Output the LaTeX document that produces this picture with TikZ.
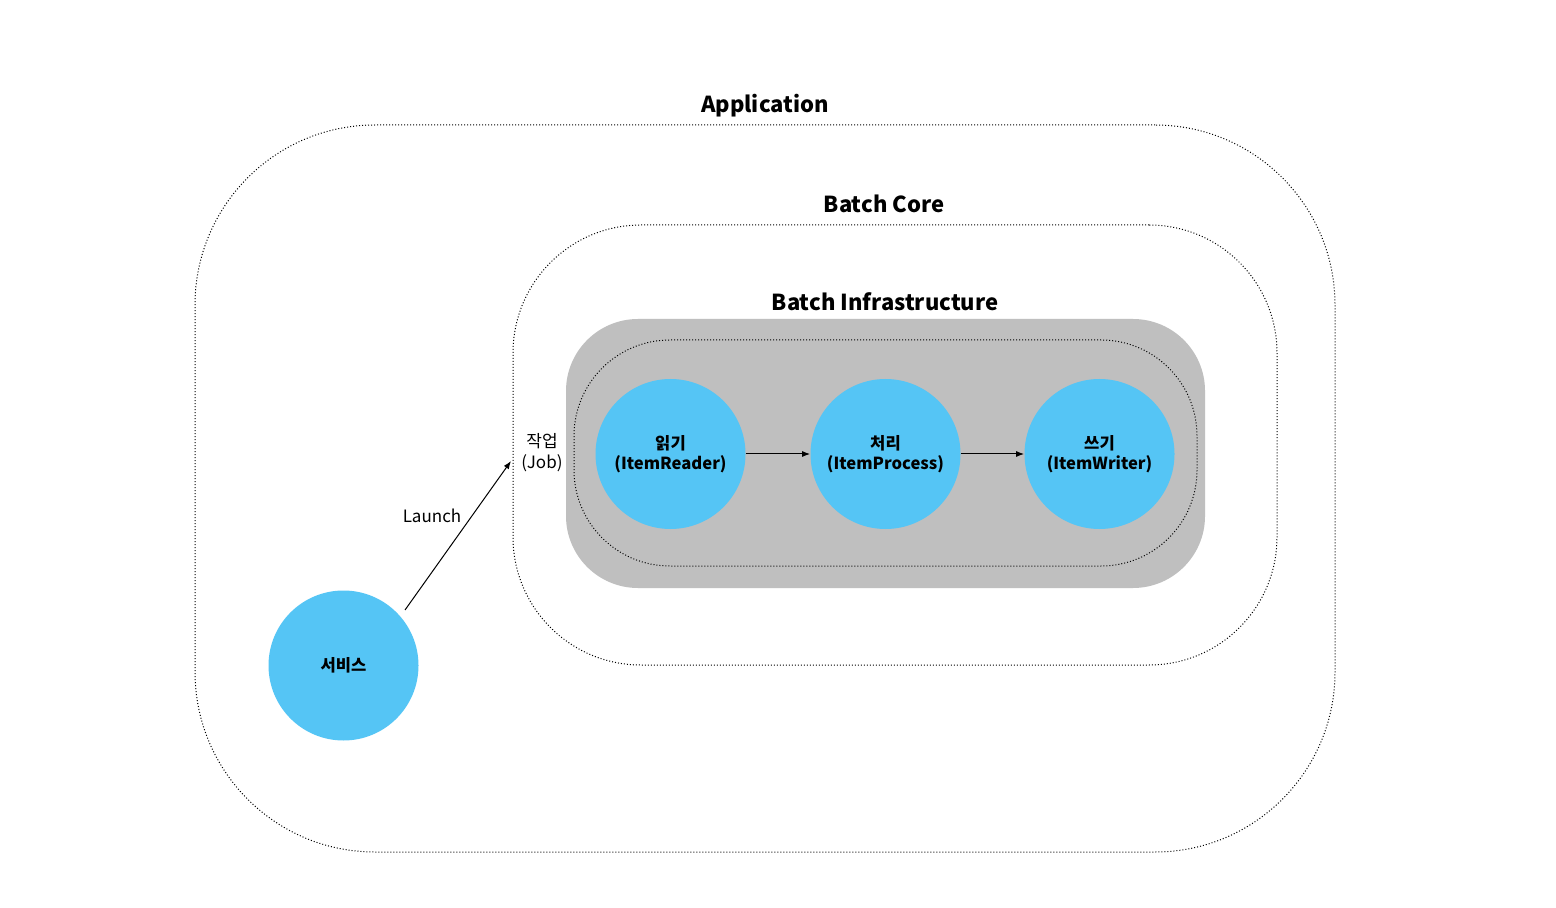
\documentclass[tikz,border=0pt]{standalone}
\usepackage{fontspec}
\setmainfont{Noto Sans CJK KR}
\usetikzlibrary{arrows.meta,positioning}
\definecolor{circblue}{HTML}{55C5F5}
\definecolor{infragray}{HTML}{BFBFBF}
\tikzset{
  box/.style={draw=black, line width=0.5pt, dash pattern=on 0.5pt off 1pt, rectangle, inner sep=0pt},
  circnode/.style={circle, fill=circblue, minimum size=75pt, inner sep=0pt, align=center, font=\fontsize{8.3pt}{10pt}\selectfont\bfseries},
  title/.style={font=\fontsize{11pt}{13pt}\selectfont\bfseries, inner sep=0pt},
  plain/.style={font=\fontsize{8.5pt}{10.5pt}\selectfont, align=center, inner sep=0pt},
  conn/.style={-{Latex[length=4pt,width=3pt]}, line width=0.5pt}
}
\begin{document}
\begin{tikzpicture}[x=0.5pt,y=-0.5pt]
\useasboundingbox (0,0) rectangle (1556,908);
\fill[white] (0,0) rectangle (1556,908);
% containers
\node[box, rounded corners=90pt, minimum width=570pt, minimum height=363.5pt] (app) at (765,488.5) {};
\node[box, rounded corners=64pt, minimum width=382pt, minimum height=220pt] (core) at (895,445) {};
\node[rectangle, fill=infragray, rounded corners=36pt, minimum width=319.5pt, minimum height=134.5pt, inner sep=0pt] (infra) at (885.5,453.5) {};
\node[box, rounded corners=48pt, minimum width=311.5pt, minimum height=113pt] (inner) at (885.5,453) {};
% titles
\node[title] (tapp) at (765,106) {Application};
\node[title] (tcore) at (884,203.5) {Batch Core};
\node[title] (tinfra) at (885,301.5) {Batch Infrastructure};
% circles
\node[circnode] (read) at (670.5,454) {읽기\\(ItemReader)};
\node[circnode] (proc) at (885.5,454) {처리\\(ItemProcess)};
\node[circnode] (write) at (1099.5,454) {쓰기\\(ItemWriter)};
\node[circnode] (svc) at (343.5,665.5) {서비스};
% labels
\node[plain] (job) at (542,453) {작업\\(Job)};
\coordinate (jobin) at (511,461);
\coordinate (svcout) at (405,610);
% connectors
\draw[conn] (read) -- (proc);
\draw[conn] (proc) -- (write);
\draw[conn] (svcout) -- node[plain, pos=0.5, xshift=-13pt, yshift=10pt] (launch) {Launch} (jobin);
\end{tikzpicture}
\end{document}
